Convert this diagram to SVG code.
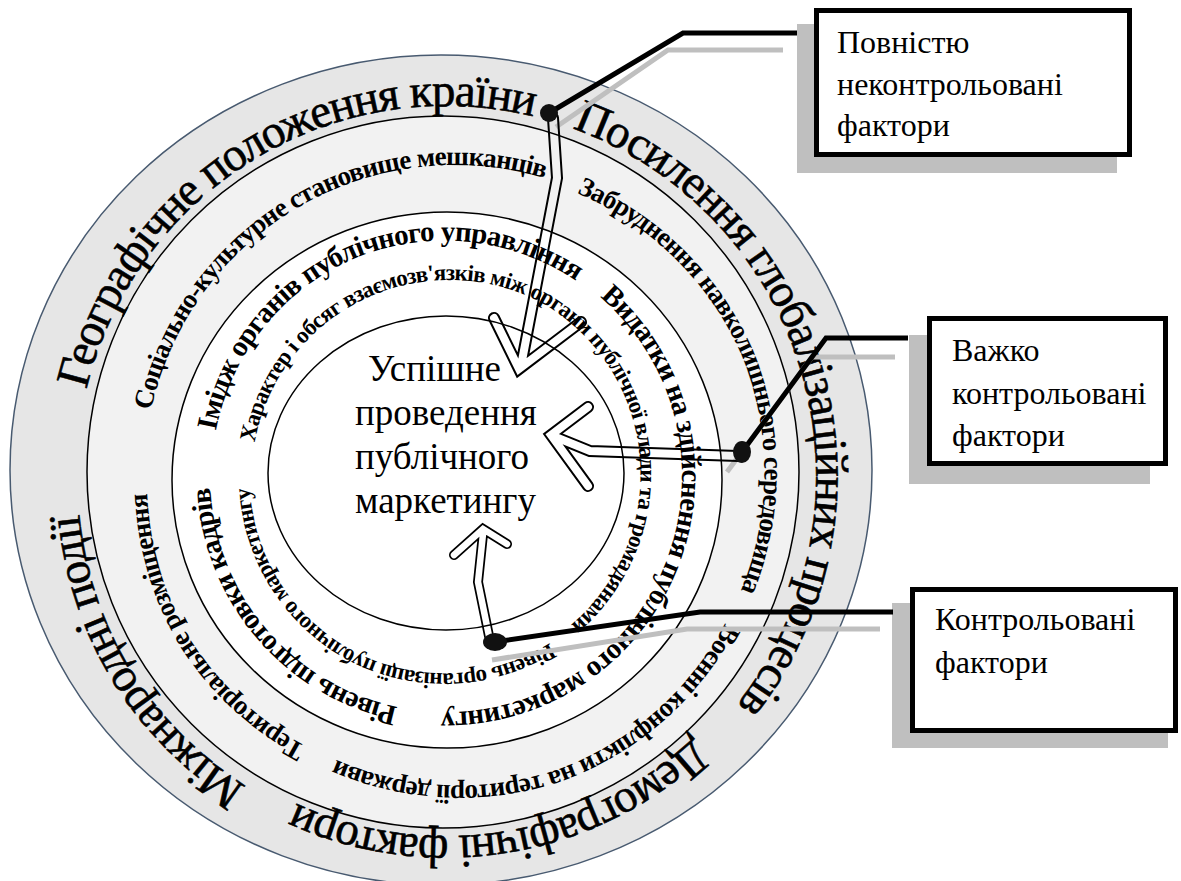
<svg xmlns="http://www.w3.org/2000/svg" width="1181" height="881" viewBox="0 0 1181 881">
<style>
.ring{stroke:#000;stroke-width:1.5}
.t1{font-family:"Liberation Serif","Times New Roman",serif;font-size:47px;letter-spacing:-1.3px;fill:#000;stroke:#000;stroke-width:0.6}
.t2{font-family:"Liberation Serif","Times New Roman",serif;font-size:27px;letter-spacing:-0.8px;font-weight:bold;fill:#000}
.t3{font-family:"Liberation Serif","Times New Roman",serif;font-size:29px;letter-spacing:-0.8px;font-weight:bold;fill:#000}
.t4{font-family:"Liberation Serif","Times New Roman",serif;font-size:23px;letter-spacing:-0.7px;font-weight:bold;fill:#000}
.ct{font-family:"Liberation Serif","Times New Roman",serif;font-size:37px;fill:#000}
.lbl{font-family:"Liberation Serif","Times New Roman",serif;font-size:32px;fill:#000}
.box{fill:#fff;stroke:#000;stroke-width:5}
.shadow{fill:#bfbfbf}
.conn{fill:none;stroke:#000;stroke-width:5;stroke-linejoin:miter}
.connsh{fill:none;stroke:#bfbfbf;stroke-width:5;stroke-linejoin:miter}
.mw{fill:none;stroke:#fff;stroke-linecap:round;stroke-linejoin:miter}
.mb{fill:none;stroke:#000;stroke-linecap:round;stroke-linejoin:miter}
</style>
<defs>
<path id="p1" d="M 639.3 791.5 A 370 370 0 0 1 252.7 160.5 A 370 370 0 0 1 639.3 791.5"/>
<path id="p2" d="M 90.3 578.0 A 370 370 0 0 1 801.7 374.0 A 370 370 0 0 1 90.3 578.0"/>
<path id="p3" d="M 386.6 120.9 A 360 360 0 0 1 505.4 831.1 A 360 360 0 0 1 386.6 120.9"/>
<path id="p4" d="M 760.8 281.6 A 370 370 0 0 1 131.2 670.4 A 370 370 0 0 1 760.8 281.6"/>
<path id="p5" d="M 613.3 743.7 A 311 311 0 0 1 296.7 208.3 A 311 311 0 0 1 613.3 743.7"/>
<path id="p6" d="M 167.7 595.0 A 311 311 0 0 1 742.3 357.0 A 311 311 0 0 1 167.7 595.0"/>
<path id="p7" d="M 351.7 182.7 A 311 311 0 0 1 558.3 769.3 A 311 311 0 0 1 351.7 182.7"/>
<path id="p8" d="M 718.0 310.1 A 311 311 0 0 1 192.0 641.9 A 311 311 0 0 1 718.0 310.1"/>
<path id="p9" d="M 537.1 693.7 A 236 236 0 0 1 354.9 258.3 A 236 236 0 0 1 537.1 693.7"/>
<path id="p11" d="M 225.5 391.8 A 236 236 0 0 1 666.5 560.2 A 236 236 0 0 1 225.5 391.8"/>
<path id="p12" d="M 625.2 322.4 A 236 236 0 0 1 266.8 629.6 A 236 236 0 0 1 625.2 322.4"/>
<path id="p10" d="M 347.3 647.6 A 198 198 0 0 1 544.7 304.4 A 198 198 0 0 1 347.3 647.6"/>
<path id="p13" d="M 536.5 299.9 A 198 198 0 0 1 355.5 652.1 A 198 198 0 0 1 536.5 299.9"/>
<mask id="arrowMask" maskUnits="userSpaceOnUse" x="0" y="0" width="1181" height="881">
<g class="mw" stroke-width="12">
<path d="M 553 118 L 557 178 L 521 366 M 494 318 L 519 369 L 581 322"/>
<path d="M 738 456 L 590 451 L 553 436 M 588 407 L 551 435 L 588 486"/>
</g>
<path class="mw" stroke-width="10" d="M 489 636 L 478 582 L 483 534 M 454 555 L 483 529 L 507 544"/>
<g class="mb" stroke-width="8">
<path d="M 553 118 L 557 178 L 521 366 M 494 318 L 519 369 L 581 322"/>
<path d="M 738 456 L 590 451 L 553 436 M 588 407 L 551 435 L 588 486"/>
</g>
<path class="mb" stroke-width="6.5" d="M 489 636 L 478 582 L 483 534 M 454 555 L 483 529 L 507 544"/>
</mask>
</defs>

<g id="rings">
<ellipse id="ring-outer" cx="441" cy="470" rx="431" ry="415" fill="#e6e6e6" stroke="#485a70" stroke-width="1.5"/>
<circle id="ring-2" cx="443" cy="472" r="356" fill="#f2f2f2" class="ring"/>
<ellipse id="ring-3" cx="447" cy="480" rx="275" ry="268" fill="#fff" class="ring"/>
<ellipse id="ring-4" cx="446" cy="473" rx="178" ry="157" fill="#fff" class="ring"/>
</g>

<g id="outer-factors">
<text class="t1"><textPath href="#p1" startOffset="50%" text-anchor="middle">Географічне положення країни</textPath></text>
<text class="t1"><textPath href="#p2" startOffset="50%" text-anchor="middle">Посилення глобалізаційних процесів</textPath></text>
<text class="t1"><textPath href="#p3" startOffset="50%" text-anchor="middle">Демографічні фактори</textPath></text>
<text class="t1"><textPath href="#p4" startOffset="50%" text-anchor="middle">Міжнародні події</textPath></text>
</g>

<g id="middle-factors">
<text class="t2"><textPath href="#p5" startOffset="50%" text-anchor="middle">Соціально-культурне становище мешканців</textPath></text>
<text class="t2"><textPath href="#p6" startOffset="50%" text-anchor="middle">Забруднення навколишнього середовища</textPath></text>
<text class="t2"><textPath href="#p7" startOffset="50%" text-anchor="middle">Воєнні конфлікти на території держави</textPath></text>
<text class="t2"><textPath href="#p8" startOffset="50%" text-anchor="middle">Територіальне розміщення</textPath></text>
</g>

<g id="inner-factors">
<text class="t3"><textPath href="#p9" startOffset="50%" text-anchor="middle">Імідж органів публічного управління</textPath></text>
<text class="t3"><textPath href="#p11" startOffset="50%" text-anchor="middle">Видатки на здійснення публічного маркетингу</textPath></text>
<text class="t3"><textPath href="#p12" startOffset="50%" text-anchor="middle">Рівень підготовки кадрів</textPath></text>
<text class="t4"><textPath href="#p10" startOffset="50%" text-anchor="middle">Характер і обсяг взаємозв'язків між органи публічної влади та громадянами</textPath></text>
<text class="t4"><textPath href="#p13" startOffset="50%" text-anchor="middle">Рівень організації публічного маркетингу</textPath></text>
</g>

<g id="center">
<text class="ct" x="368" y="381">Успішне</text>
<text class="ct" x="355" y="425">проведення</text>
<text class="ct" x="355" y="469">публічного</text>
<text class="ct" x="355" y="513">маркетингу</text>
</g>

<g id="box-uncontrolled">
<rect class="shadow" x="797" y="24" width="320" height="149"/>
<rect class="box" x="816.5" y="10.5" width="313" height="144"/>
<text class="lbl" x="837" y="53">Повністю</text>
<text class="lbl" x="837" y="95">неконтрольовані</text>
<text class="lbl" x="837" y="136">фактори</text>
</g>

<g id="box-hard">
<rect class="shadow" x="909" y="335" width="241" height="149"/>
<rect class="box" x="929.5" y="318.5" width="236" height="145"/>
<text class="lbl" x="952" y="361">Важко</text>
<text class="lbl" x="952" y="404">контрольовані</text>
<text class="lbl" x="952" y="446">фактори</text>
</g>

<g id="box-controlled">
<rect class="shadow" x="892" y="603" width="276" height="145"/>
<rect class="box" x="912.5" y="589.5" width="263" height="141"/>
<text class="lbl" x="935" y="630">Контрольовані</text>
<text class="lbl" x="935" y="673">фактори</text>
</g>

<g id="connectors">
<polyline class="connsh" points="556,127 668,50 783,50"/>
<polyline class="connsh" points="727,472 812,357 895,357"/>
<polyline class="connsh" points="492,660 687,629 880,629"/>
<rect x="0" y="0" width="1181" height="881" fill="#000" mask="url(#arrowMask)"/>
<polyline class="conn" points="549,113 683,33 797,33"/>
<polyline class="conn" points="742,452 826,338 908,338"/>
<polyline class="conn" points="495,642 700,612 893,612"/>
<circle cx="549" cy="113" r="9" fill="#111"/>
<ellipse cx="742" cy="452" rx="9" ry="11" fill="#111"/>
<ellipse cx="495" cy="642" rx="12" ry="9" fill="#111"/>
</g>
</svg>
